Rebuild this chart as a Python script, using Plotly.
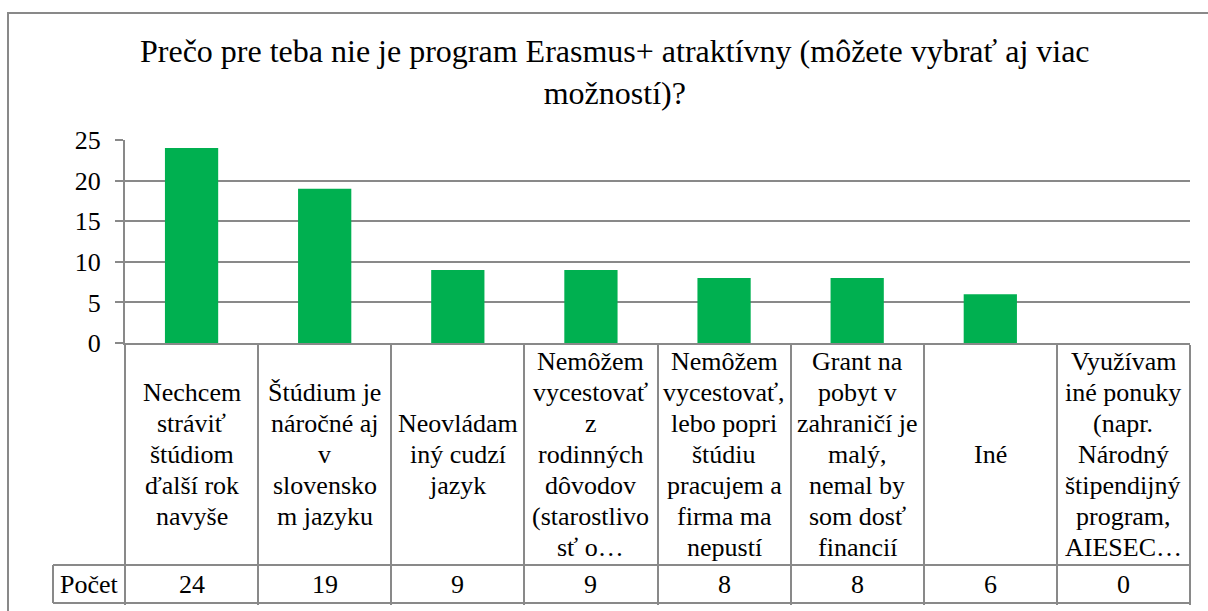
import plotly.graph_objects as go

# data
label_lines = [
    ["Nechcem", "stráviť", "štúdiom", "ďalší rok", "navyše"],
    ["Štúdium je", "náročné aj", "v", "slovensko", "m jazyku"],
    ["Neovládam", "iný cudzí", "jazyk"],
    ["Nemôžem", "vycestovať", "z", "rodinných", "dôvodov", "(starostlivo", "sť o…"],
    ["Nemôžem", "vycestovať,", "lebo popri", "štúdiu", "pracujem a", "firma ma", "nepustí"],
    ["Grant na", "pobyt v", "zahraničí je", "malý,", "nemal by", "som dosť", "financií"],
    ["Iné"],
    ["Využívam", "iné ponuky", "(napr.", "Národný", "štipendijný", "program,", "AIESEC…"],
]
categories = [" ".join(l) for l in label_lines]
counts = [24, 19, 9, 9, 8, 8, 6, 0]
series_name = "Počet"
title_text = "Prečo pre teba nie je program Erasmus+ atraktívny (môžete vybrať aj viac<br>možností)?"

W, H = 1208, 611
L, R, T, B = 125, 1190, 140, 343
HEAD_BOTTOM = 565
ROW_BOTTOM = 603
LEFT_CELL = 53
LINE_H = 31
GRAY = "#898989"
FONT = "Liberation Serif"


def px_x(p):
    return (p - L) / (R - L)


def px_y(p):
    return (B - p) / (B - T)


fig = go.Figure()
fig.add_trace(go.Bar(
    x=categories, y=counts, name=series_name,
    marker=dict(color="#00B050", line=dict(width=0)),
    hoverinfo="x+y",
))

txt = dict(family=FONT, size=26, color="black")
annotations = [
    dict(text=title_text, x=px_x(615), xref="paper", xanchor="center",
         y=px_y(72), yref="paper", yanchor="middle", showarrow=False,
         font=dict(family=FONT, size=32, color="black")),
    dict(text=series_name, x=px_x((LEFT_CELL + L) / 2), xref="paper", xanchor="center",
         y=px_y((HEAD_BOTTOM + ROW_BOTTOM) / 2), yref="paper", yanchor="middle",
         showarrow=False, font=txt),
]
head_mid = (B + HEAD_BOTTOM) / 2
for cat, lines, val in zip(categories, label_lines, counts):
    n = len(lines)
    for i, line in enumerate(lines):
        yc = head_mid + (i - (n - 1) / 2) * LINE_H
        annotations.append(dict(
            text=line, x=cat, xref="x", xanchor="center",
            y=px_y(yc), yref="paper", yanchor="middle", showarrow=False, font=txt))
    annotations.append(dict(
        text=str(val), x=cat, xref="x", xanchor="center",
        y=px_y((HEAD_BOTTOM + ROW_BOTTOM) / 2), yref="paper", yanchor="middle",
        showarrow=False, font=txt))

line_style = dict(color=GRAY, width=2)
shapes = [
    # outer chart border (runs past the right and bottom edges)
    dict(type="rect", xref="paper", yref="paper",
         x0=px_x(8), x1=px_x(W + 20), y0=px_y(13), y1=px_y(H + 20),
         line=line_style, layer="below"),
    # table horizontal lines
    dict(type="line", xref="paper", yref="paper",
         x0=px_x(LEFT_CELL), x1=1, y0=px_y(HEAD_BOTTOM), y1=px_y(HEAD_BOTTOM),
         line=line_style),
    dict(type="line", xref="paper", yref="paper",
         x0=px_x(LEFT_CELL), x1=1, y0=px_y(ROW_BOTTOM), y1=px_y(ROW_BOTTOM),
         line=line_style),
    # left edge of the "Počet" cell
    dict(type="line", xref="paper", yref="paper",
         x0=px_x(LEFT_CELL), x1=px_x(LEFT_CELL), y0=px_y(HEAD_BOTTOM), y1=px_y(ROW_BOTTOM),
         line=line_style),
]

fig.update_layout(
    width=W, height=H,
    margin=dict(l=L, r=W - R, t=T, b=H - B, pad=0, autoexpand=False),
    paper_bgcolor="white", plot_bgcolor="white",
    showlegend=False,
    bargap=0.6,
    font=txt,
    annotations=annotations,
    shapes=shapes,
)
# x ticks on category boundaries double as the table's vertical cell lines
fig.update_xaxes(
    type="category", showticklabels=False, showgrid=False, automargin=False,
    tickson="boundaries", ticks="outside", ticklen=ROW_BOTTOM - B,
    tickcolor=GRAY, tickwidth=2,
    showline=True, linecolor=GRAY, linewidth=2, zeroline=False,
)
fig.update_yaxes(
    range=[0, 25], dtick=5, tick0=0, automargin=False,
    showgrid=True, gridcolor=GRAY, gridwidth=2,
    showline=True, linecolor=GRAY, linewidth=2,
    ticks="outside", ticklen=8, tickcolor=GRAY, tickwidth=2,
    ticklabelstandoff=9, zeroline=False,
    tickfont=txt,
)

# drop the default 8px body margin so the figure sits flush in the window
fig.write_html("out.html", config={"displayModeBar": False},
               post_script="document.body.style.margin='0';")
